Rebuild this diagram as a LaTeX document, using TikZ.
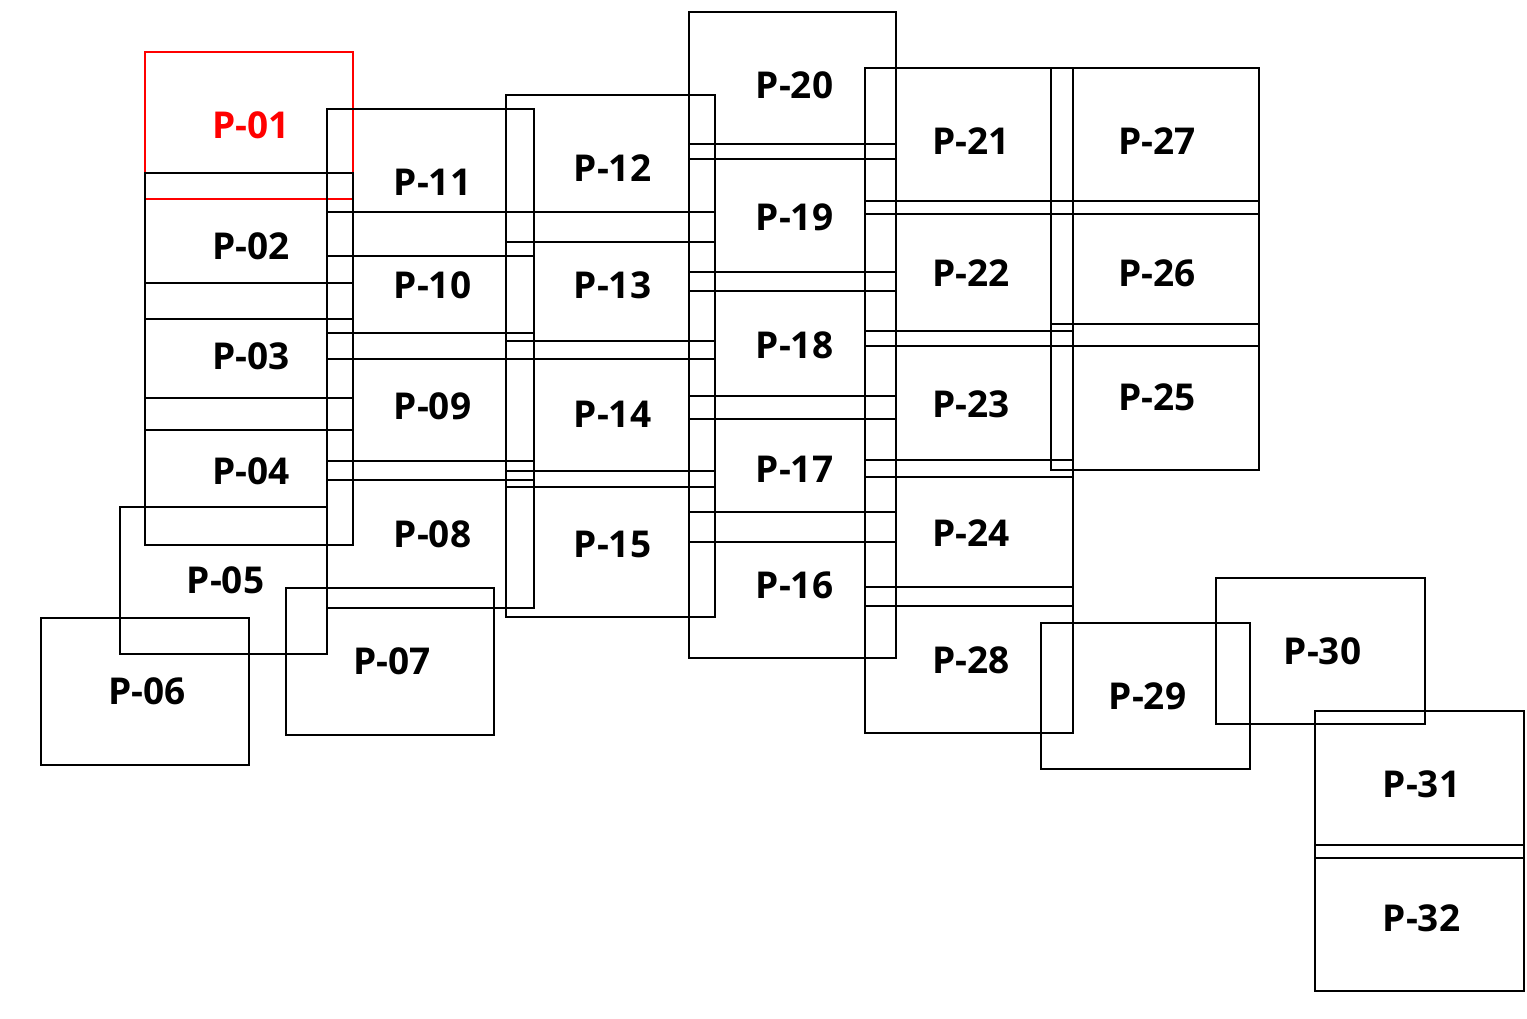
\documentclass[tikz,border=0pt]{standalone}
\usepackage{fontspec}
\setmainfont{Open Sans}
\begin{document}
\begin{tikzpicture}[x=1pt,y=-1pt,
  tile/.style={draw=black, line width=1.9pt, inner sep=0pt, text=black,
    font=\fontsize{37}{40}\selectfont\bfseries},
  redtile/.style={tile, draw=red, text=red}]
\useasboundingbox (0,0) rectangle (1527,1018);
\newcommand{\tile}[7][tile]{\node[#1, minimum width={(#5-#3)*1pt}, minimum height={(#6-#4)*1pt}]
  (#2) at ({(#3+#5)/2},{(#4+#6)/2}) {\hspace*{4pt}#7};}
% column 1
\tile[redtile]{p01}{145}{52}{353}{199}{P-01}
\tile{p02}{145}{173}{353}{319}{P-02}
\tile{p03}{145}{283}{353}{430}{P-03}
\tile{p04}{145}{398}{353}{545}{P-04}
\tile{p05}{120}{507}{327}{654}{P-05}
\tile{p06}{41}{618}{249}{765}{P-06}
\tile{p07}{286}{588}{494}{735}{P-07}
% column 2
\tile{p08}{327}{461}{534}{608}{P-08}
\tile{p09}{327}{333}{534}{480}{P-09}
\tile{p10}{327}{212}{534}{359}{P-10}
\tile{p11}{327}{109}{534}{256}{P-11}
% column 3
\tile{p12}{506}{95}{715}{242}{P-12}
\tile{p13}{506}{212}{715}{359}{P-13}
\tile{p14}{506}{341}{715}{487}{P-14}
\tile{p15}{506}{471}{715}{617}{P-15}
% column 4
\tile{p16}{689}{512}{896}{658}{P-16}
\tile{p17}{689}{396}{896}{542}{P-17}
\tile{p18}{689}{272}{896}{419}{P-18}
\tile{p19}{689}{144}{896}{291}{P-19}
\tile{p20}{689}{12}{896}{159}{P-20}
% column 5
\tile{p21}{865}{68}{1073}{214}{P-21}
\tile{p22}{865}{201}{1073}{346}{P-22}
\tile{p23}{865}{331}{1073}{477}{P-23}
\tile{p24}{865}{460}{1073}{606}{P-24}
\tile{p28}{865}{587}{1073}{733}{P-28}
% column 6
\tile{p27}{1051}{68}{1259}{214}{P-27}
\tile{p26}{1051}{201}{1259}{346}{P-26}
\tile{p25}{1051}{324}{1259}{470}{P-25}
% tail
\tile{p29}{1041}{623}{1250}{769}{P-29}
\tile{p30}{1216}{578}{1425}{724}{P-30}
\tile{p31}{1315}{711}{1524}{858}{P-31}
\tile{p32}{1315}{845}{1524}{991}{P-32}
\end{tikzpicture}
\end{document}
